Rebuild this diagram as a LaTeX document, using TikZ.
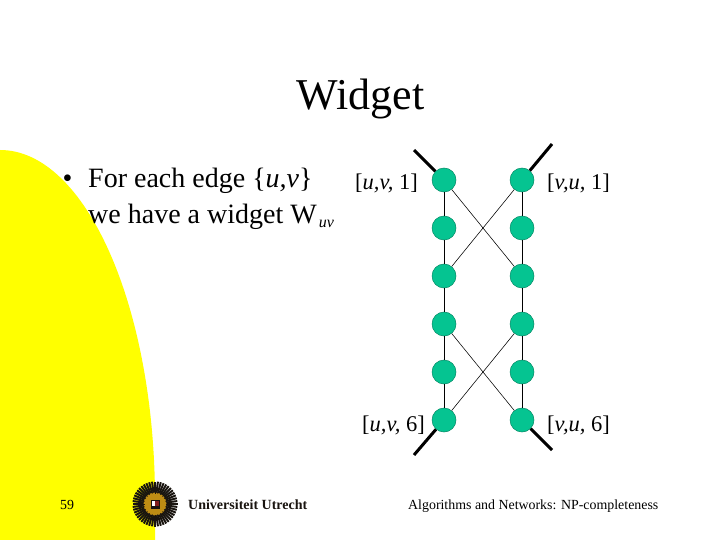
\documentclass[tikz,border=0pt]{standalone}
\usepackage{fontspec}
\setmainfont{Liberation Serif}
\definecolor{nodegreen}{RGB}{5,196,145}
\definecolor{slideyellow}{RGB}{255,255,0}
\definecolor{logogold}{RGB}{190,140,20}
\definecolor{logodark}{RGB}{25,20,15}
\definecolor{logored}{RGB}{130,30,30}
\tikzset{
  vert/.style={circle,fill=nodegreen,draw=nodegreen!70!black,line width=0.5pt,minimum size=24pt,inner sep=0pt},
  thin edge/.style={line width=0.9pt,black},
  cross edge/.style={line width=0.55pt,black},
  thick edge/.style={line width=3pt,black},
  lbl/.style={font=\fontsize{22.5}{22.5}\selectfont,inner sep=0pt,anchor=base west},
  title/.style={font=\fontsize{44}{44}\selectfont,inner sep=0pt,anchor=base},
  body/.style={font=\fontsize{28}{28}\selectfont,inner sep=0pt,anchor=base west},
  foot/.style={font=\fontsize{13.9}{13.9}\selectfont,inner sep=0pt,anchor=base west},
}
\begin{document}
\begin{tikzpicture}[x=1pt,y=-1pt]
\useasboundingbox (0,0) rectangle (720,540);
\fill[white] (0,0) rectangle (720,540);
% yellow shape
\fill[slideyellow] (0,540) -- (0,150) arc[start angle=90,end angle=0,x radius=155,y radius=-350] -- (155,540) -- cycle;
% title and body
\node[title] (ttl) at (360.5,110) {Widget};
\node[body] (bul) at (62.5,188) {•};
\node[body] (b1) at (88,188) {For each edge \{\textit{u,v}\}};
\node[body] (b2) at (88,223) {we have a widget W\hspace{2pt}\raisebox{-5pt}{\fontsize{16}{16}\selectfont\textit{uv}}};
% vertices
\foreach \n/\x/\y in {a1/444/180,a2/444/228,a3/444/276,a4/444/324,a5/444/372,a6/444/420,
                      b1v/522/180,b2v/522/228,b3v/522/276,b4v/522/324,b5v/522/372,b6v/522/420}
  \node[vert] (\n) at (\x,\y) {};
\coordinate (tl) at (414,150);
\coordinate (tr) at (552,144);
\coordinate (bl) at (414,455);
\coordinate (br) at (552,450);
\foreach \p/\q in {a1/a2,a2/a3,a3/a4,a4/a5,a5/a6,b1v/b2v,b2v/b3v,b3v/b4v,b4v/b5v,b5v/b6v}
  \draw[thin edge] (\p) -- (\q);
\foreach \p/\q in {a1/b3v,b1v/a3,a4/b6v,b4v/a6}
  \draw[cross edge] (\p) -- (\q);
\draw[thick edge] (tl) -- (a1);
\draw[thick edge] (tr) -- (b1v);
\draw[thick edge] (bl) -- (a6);
\draw[thick edge] (br) -- (b6v);
% labels
\node[lbl] (l1) at (355,190) {[\textit{u,v,} 1]};
\node[lbl] (l2) at (547,190) {[\textit{v,u,} 1]};
\node[lbl] (l3) at (362,431) {[\textit{u,v,} 6]};
\node[lbl] (l4) at (547,431) {[\textit{v,u,} 6]};
% footer
\node[foot] (pg) at (60,509) {59};
\node[foot] (ft) at (408,509) {Algorithms and Networks: NP-completeness};
% logo
\foreach \a in {0,7.5,...,352.5}
  \draw[logodark,line width=2pt] (155,504) -- ++(\a:22.5);
\fill[logogold] (155,504) circle (11.5);
\foreach \a in {0,15,...,345}
  \draw[logodark,line width=0.5pt] (155,504) ++(\a:10.5) -- ++(\a:4);
\fill[logodark] (150.5,499.5) rectangle (159.5,508.5);
\fill[white] (151.5,500.5) rectangle (158.5,506);
\fill[logored] (155,500.5) rectangle (158.5,506);
\node[inner sep=0pt,anchor=base west,font=\fontsize{14}{14}\selectfont\bfseries,text=logodark] (uu) at (188,509) {Universiteit Utrecht};
\end{tikzpicture}
\end{document}
